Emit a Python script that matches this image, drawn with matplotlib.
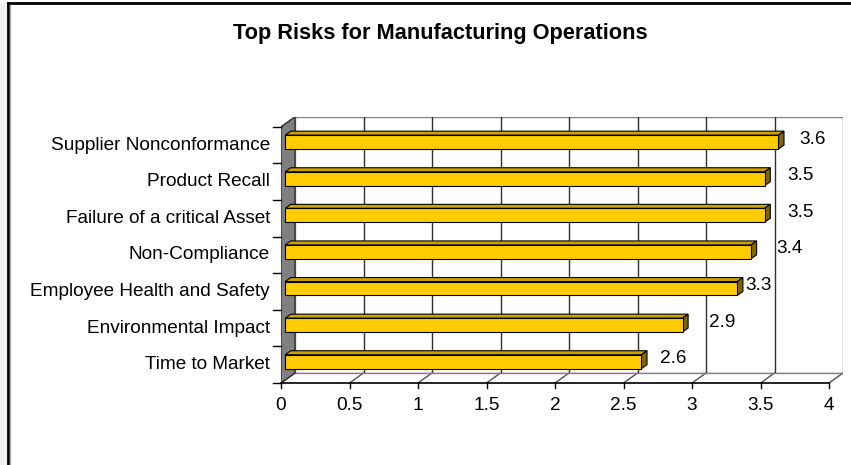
import matplotlib.pyplot as plt
from matplotlib.patches import Polygon, Rectangle
from matplotlib.lines import Line2D

plt.rcParams['font.family'] = ['Liberation Sans', 'DejaVu Sans']

categories = ['Supplier Nonconformance', 'Product Recall', 'Failure of a critical Asset',
              'Non-Compliance', 'Employee Health and Safety', 'Environmental Impact',
              'Time to Market']
values = [3.6, 3.5, 3.5, 3.4, 3.3, 2.9, 2.6]
x_ticks = [0, 0.5, 1, 1.5, 2, 2.5, 3, 3.5, 4]
x_tick_labels = ['0', '0.5', '1', '1.5', '2', '2.5', '3', '3.5', '4']
title = 'Top Risks for Manufacturing Operations'

# horizontal gap (px) between bar end and its value label, kept clear of gridlines
label_pad_px = [25, 27, 27, 30, 12, 31, 23]

W, H = 851, 465
fig = plt.figure(figsize=(W / 100, H / 100), dpi=100)

# pixel layout of the front plane of the 3D box
px_x0, px_per_unit = 281, 137.0
px_y0, px_per_cat = 383, 36.6
depth_px = (14, 10)
n = len(categories)
xmax = x_ticks[-1]
DX = depth_px[0] / px_per_unit
DY = depth_px[1] / px_per_cat

left = px_x0 / W
right = (px_x0 + (xmax + DX) * px_per_unit) / W
bottom = 1 - px_y0 / H
top = 1 - (px_y0 - (n + DY) * px_per_cat) / H
ax = fig.add_axes([left, bottom, right - left, top - bottom])
ax.set_xlim(0, xmax + DX)
ax.set_ylim(0, n + DY)
ax.axis('off')

grey = '#808080'

# back wall + gridlines
ax.add_patch(Rectangle((DX, DY), xmax, n, facecolor='white', edgecolor=grey, lw=1, zorder=1))
for t in x_ticks[1:-1]:
    ax.plot([t + DX, t + DX], [DY, n + DY], color='#303030', lw=1, zorder=2)

# floor
ax.add_patch(Polygon([(0, 0), (xmax, 0), (xmax + DX, DY), (DX, DY)],
                     closed=True, facecolor='white', edgecolor='none', zorder=2))
for t in x_ticks:
    ax.plot([t, t + DX], [0, DY], color='#505050', lw=1, zorder=3)
ax.plot([DX, xmax + DX], [DY, DY], color=grey, lw=1, zorder=3)

# left side wall
ax.add_patch(Polygon([(0, 0), (DX, DY), (DX, n + DY), (0, n)],
                     closed=True, facecolor=grey, edgecolor='#303030', lw=1, zorder=3))

# axis lines and ticks
ax.plot([0, xmax], [0, 0], color='black', lw=1.2, zorder=4, clip_on=False)
tick_x = 5 / px_per_cat
for t, lab in zip(x_ticks, x_tick_labels):
    ax.plot([t, t], [0, -tick_x], color='black', lw=1, clip_on=False, zorder=4)
    ax.annotate(lab, (t, 0), xytext=(0, -22), textcoords='offset pixels',
                ha='center', va='center', fontsize=13.7, annotation_clip=False)
tick_y = 8 / px_per_unit
for k in range(n + 1):
    ax.plot([-tick_y, 0], [k, k], color='black', lw=1, clip_on=False, zorder=4)

# 3D bars
bar_h = 0.38
d0, d1 = 0.3, 0.7
for i, (cat, v) in enumerate(zip(categories, values)):
    c = n - 1 - i + 0.5
    b0, t0 = c - bar_h / 2 + d0 * DY, c + bar_h / 2 + d0 * DY
    b1, t1 = c - bar_h / 2 + d1 * DY, c + bar_h / 2 + d1 * DY
    x0, x1 = d0 * DX, d1 * DX
    ax.add_patch(Polygon([(x0, t0), (v + x0, t0), (v + x1, t1), (x1, t1)],
                         closed=True, facecolor='#CCA300', edgecolor='black', lw=0.8, zorder=5))
    ax.add_patch(Polygon([(v + x0, b0), (v + x0, t0), (v + x1, t1), (v + x1, b1)],
                         closed=True, facecolor='#806600', edgecolor='black', lw=0.8, zorder=5))
    ax.add_patch(Rectangle((x0, b0), v, bar_h, facecolor='#FFCC00',
                           edgecolor='black', lw=0.8, zorder=6))
    ax.annotate(f'{v:g}', (v, c), xytext=(label_pad_px[i], 6), textcoords='offset pixels',
                ha='left', va='center', fontsize=13.7, zorder=7)
    ax.annotate(cat, (0, c), xytext=(-11, 0), textcoords='offset pixels',
                ha='right', va='center', fontsize=13.7, annotation_clip=False)

fig.text(440 / W, 1 - 33 / H, title, ha='center', va='center',
         fontsize=15.7, fontweight='bold')

# outer chart frame (left and top edges)
fig.add_artist(Line2D([8 / W, 8 / W], [0, 1 - 3 / H], color='black', lw=2))
fig.add_artist(Line2D([8 / W, 1], [1 - 3 / H, 1 - 3 / H], color='black', lw=2))
fig.add_artist(Line2D([10 / W, 10 / W], [0, 1 - 5 / H], color='#b0b0b0', lw=1))
fig.add_artist(Rectangle((0, 0), 7 / W, 1 - 3 / H, transform=fig.transFigure,
                         facecolor='#f0f0f0', edgecolor='none'))

fig.savefig('out.png', dpi=100)
